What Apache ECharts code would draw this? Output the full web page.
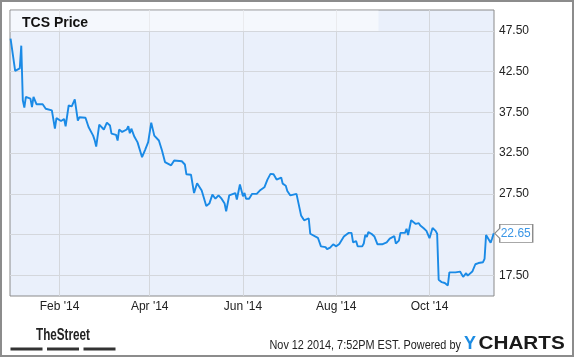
<!DOCTYPE html>
<html><head><meta charset="utf-8">
<script src="https://cdn.jsdelivr.net/npm/echarts@6/dist/echarts.min.js"></script>
<style>html,body{margin:0;padding:0;background:#fff}#c{width:575px;height:358px}</style>
</head><body><div id="c"></div>
<script>
// ---- data ----
const dates = [
'2013-12-31','2014-01-03','2014-01-06','2014-01-07','2014-01-08','2014-01-09','2014-01-10','2014-01-13','2014-01-14','2014-01-15','2014-01-17','2014-01-21','2014-01-23','2014-01-27','2014-01-29','2014-01-30',
'2014-02-02','2014-02-04','2014-02-05','2014-02-07','2014-02-09','2014-02-11','2014-02-13','2014-02-14','2014-02-18','2014-02-20','2014-02-23','2014-02-24','2014-02-25','2014-02-27',
'2014-03-02','2014-03-04','2014-03-06','2014-03-07','2014-03-10','2014-03-11','2014-03-12','2014-03-14','2014-03-17','2014-03-18','2014-03-19','2014-03-20','2014-03-22','2014-03-24','2014-03-27','2014-03-28','2014-03-29','2014-03-31',
'2014-04-02','2014-04-04','2014-04-07','2014-04-09','2014-04-11','2014-04-15','2014-04-17','2014-04-22','2014-04-24','2014-04-25','2014-04-28','2014-04-30',
'2014-05-02','2014-05-05','2014-05-08','2014-05-09','2014-05-10','2014-05-12','2014-05-14','2014-05-16','2014-05-18','2014-05-20','2014-05-21','2014-05-23','2014-05-27','2014-05-28','2014-05-30',
'2014-06-01','2014-06-02','2014-06-03','2014-06-05','2014-06-07','2014-06-10','2014-06-11','2014-06-12','2014-06-13','2014-06-15','2014-06-17','2014-06-19','2014-06-21','2014-06-23','2014-06-26','2014-06-27','2014-06-29','2014-06-30',
'2014-07-02','2014-07-06','2014-07-07','2014-07-09','2014-07-11','2014-07-14','2014-07-15','2014-07-16','2014-07-20','2014-07-22','2014-07-25','2014-07-26','2014-07-28','2014-07-30',
'2014-08-01','2014-08-03','2014-08-06','2014-08-07','2014-08-09','2014-08-11','2014-08-12','2014-08-14','2014-08-15','2014-08-18','2014-08-19','2014-08-20','2014-08-21','2014-08-22','2014-08-24','2014-08-26','2014-08-28','2014-08-31',
'2014-09-03','2014-09-05','2014-09-08','2014-09-09','2014-09-11','2014-09-12','2014-09-15','2014-09-16','2014-09-17','2014-09-19','2014-09-22','2014-09-24','2014-09-25','2014-09-27','2014-09-29',
'2014-10-01','2014-10-03','2014-10-05','2014-10-06','2014-10-07','2014-10-09','2014-10-11','2014-10-13','2014-10-14','2014-10-15','2014-10-18','2014-10-21','2014-10-23','2014-10-25','2014-10-26','2014-10-27','2014-10-29','2014-10-30','2014-10-31',
'2014-11-02','2014-11-05','2014-11-06','2014-11-07','2014-11-10','2014-11-11','2014-11-12'
];
const prices = [
46.55,42.6,42.9,45.7,39.0,38.1,39.4,39.2,38.15,39.4,38.5,38.5,37.95,37.75,35.5,36.8,
36.45,36.7,35.8,38.35,38.25,39.1,36.5,36.9,36.85,35.7,34.65,34.1,33.3,36.0,
35.4,36.25,35.9,34.9,34.75,34.05,35.4,35.1,35.4,35.8,34.95,35.5,34.5,33.85,32.0,32.2,32.9,33.85,
36.25,34.65,34.05,32.85,31.4,31.0,31.6,31.5,31.1,29.9,29.85,27.6,
28.8,27.9,26.0,25.8,26.3,27.4,26.9,27.3,26.9,26.3,25.35,27.3,27.6,26.8,28.65,
27.2,27.6,26.9,26.9,27.5,27.5,27.65,27.9,27.8,28.3,29.25,29.95,29.9,29.25,29.5,28.75,28.5,27.85,
27.3,27.5,27.45,24.85,24.25,24.5,22.6,22.5,22.1,21.05,20.95,20.7,20.9,21.3,
21.05,21.35,22.25,22.2,22.7,22.7,21.55,21.7,21.05,21.05,21.4,22.45,22.2,22.8,22.6,22.25,21.3,21.3,
21.55,22.0,22.3,21.4,21.75,22.7,22.7,23.2,22.45,24.25,23.8,23.9,23.6,23.3,22.95,
22.05,23.3,22.95,22.6,16.95,16.65,16.55,16.25,17.85,17.95,17.85,17.95,17.3,17.75,17.45,17.55,17.95,17.75,18.85,
19.0,19.1,19.5,22.45,21.5,22.05,22.65
];
const yTicks = [17.5, 22.5, 27.5, 32.5, 37.5, 42.5, 47.5];
const xTickDates = ['2014-02-01','2014-04-01','2014-06-01','2014-08-01','2014-10-01'];
const xTickLabels = ["Feb '14","Apr '14","Jun '14","Aug '14","Oct '14"];
const titleText = 'TCS Price';
const lastLabel = '22.65';
const footerText = 'Nov 12 2014, 7:52PM EST. Powered by';

// ---- chart ----
const chart = echarts.init(document.getElementById('c'), null, {renderer:'canvas'});
const P = s => +echarts.time.parse(s);
const xTickValues = xTickDates.map(P);
const seriesData = dates.map((d,i)=>[P(d), prices[i]]);
const FONT = '"Liberation Sans", Arial, Helvetica, sans-serif';

const option = {
  animation:false,
  backgroundColor:'#ffffff',
  grid:{left:10,right:81,top:10,bottom:62,show:true,backgroundColor:'#eaf0fb',borderColor:'#8a8a8a',borderWidth:1},
  xAxis:{
    type:'value', min:P('2013-12-30 15:00'), max:P('2014-11-12 04:30'),
    axisLine:{show:false}, axisTick:{show:false, customValues:xTickValues},
    axisLabel:{customValues:xTickValues, color:'#222', fontSize:12, fontFamily:FONT, margin:5, hideOverlap:false,
      formatter:(v)=>{const i=xTickValues.indexOf(+v); return i>=0?xTickLabels[i]:'';}},
    splitLine:{show:true, lineStyle:{color:'#d4d7dc', width:1}}
  },
  yAxis:{
    type:'value', position:'right', min:14.95, max:50.08,
    axisLine:{show:false}, axisTick:{show:false, customValues:yTicks},
    axisLabel:{customValues:yTicks, color:'#222', fontSize:12, fontFamily:FONT, margin:5,
      formatter:v=>Number(v).toFixed(2)},
    splitLine:{show:true, lineStyle:{color:'#d4d7dc', width:1}}
  },
  series:[{
    type:'line', data:seriesData, showSymbol:false, symbol:'none', z:3,
    lineStyle:{color:'#1a8ae6', width:1.9},
    markPoint:{
      silent:true,
      symbol:'path://M0,9L5,4L5,0L38,0L38,18L5,18L5,14Z',
      symbolSize:[38,18], symbolOffset:[20,0],
      itemStyle:{color:'#ffffff', borderColor:'#8c8c8c', borderWidth:1},
      label:{show:true, position:'inside', offset:[2,0], formatter:lastLabel, color:'#3a96e6', fontSize:12, fontFamily:FONT},
      data:[{coord:seriesData[seriesData.length-1]}]
    }
  }],
  graphic:[
    {type:'rect', z:1, silent:true, shape:{x:10.5,y:10.5,width:368,height:20.5}, style:{fill:'rgba(255,255,255,0.5)'}},
    {type:'text', z:10, x:22, y:23.5, style:{text:titleText, fill:'#111', fontSize:14, fontWeight:'bold', fontFamily:FONT, align:'left', verticalAlign:'middle'}},
    {type:'rect', z:10, silent:true, shape:{x:1,y:1,width:572,height:355}, style:{fill:'none', stroke:'#8c8c8c', lineWidth:2}},
    {type:'text', z:10, x:36, y:336, scaleX:0.73, style:{text:'TheStreet', fill:'#222', fontSize:16, fontWeight:'bold', fontFamily:FONT, align:'left', verticalAlign:'middle'}},
    {type:'rect', z:10, shape:{x:10.5,y:347.5,width:32,height:3}, style:{fill:'#333'}},
    {type:'rect', z:10, shape:{x:47,y:347.5,width:32,height:3}, style:{fill:'#333'}},
    {type:'rect', z:10, shape:{x:83.5,y:347.5,width:32,height:3}, style:{fill:'#333'}},
    {type:'text', z:10, x:269.5, y:345.5, scaleX:0.905, style:{text:footerText, fill:'#222', fontSize:12, fontFamily:FONT, align:'left', verticalAlign:'middle'}},
    {type:'text', z:10, x:464, y:344, style:{text:'Y', fill:'#1c8ce3', fontSize:18, fontWeight:'bold', fontFamily:FONT, align:'left', verticalAlign:'middle'}},
    {type:'text', z:10, x:478.5, y:344, scaleX:1.15, style:{text:'CHARTS', fill:'#1a1a1a', fontSize:18, fontWeight:'bold', fontFamily:FONT, align:'left', verticalAlign:'middle'}}
  ]
};
chart.setOption(option);
</script>
</body></html>
